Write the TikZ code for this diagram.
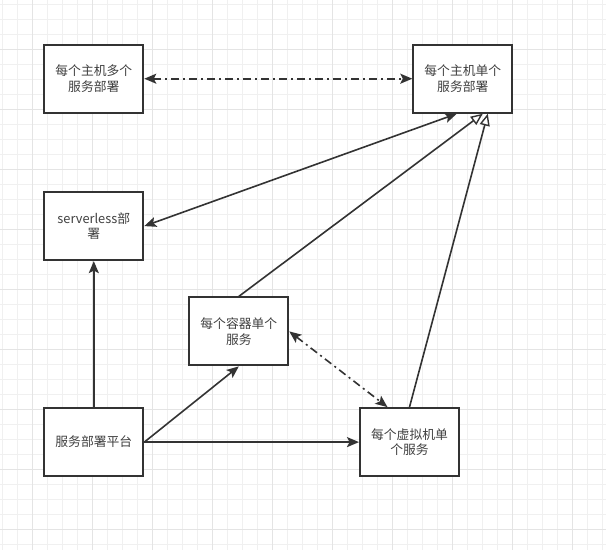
\documentclass[tikz,border=0pt]{standalone}
\usepackage{fontspec}
\setmainfont{Noto Sans CJK SC}
\definecolor{lineGray}{HTML}{333333}
\definecolor{textGray}{HTML}{404040}
\definecolor{gridMinor}{HTML}{F0F0F0}
\definecolor{gridMajor}{HTML}{E4E4E4}
\usetikzlibrary{positioning, arrows.meta}

\begin{document}
\begin{tikzpicture}[
    x=1pt, y=-1pt,
    block/.style={rectangle, draw=lineGray, fill=white, line width=2pt,
                  minimum width=99pt, minimum height=68pt, align=center,
                  text=textGray, font=\fontsize{12.8}{15.6}\selectfont},
    link/.style={draw=lineGray, line width=1.6pt,
                 -{Stealth[length=12pt, width=10pt, inset=2.5pt]}},
    twoway/.style={draw=lineGray, line width=1.6pt,
                 {Stealth[length=12pt, width=10pt, inset=2.5pt]}-{Stealth[length=12pt, width=10pt, inset=2.5pt]}},
    inherit/.style={draw=lineGray, line width=1.6pt,
                 -{Triangle[length=12pt, width=10pt, fill=white, line width=1.4pt]}},
    dashdot/.style={dash pattern=on 8pt off 4pt on 2pt off 4pt},
  ]
    % background grid
    \useasboundingbox (0,0) rectangle (606,550);
    \fill[white] (0,0) rectangle (606,550);
    \foreach \gx in {2,17,...,602}
      \draw[gridMinor, line width=0.8pt] (\gx,0) -- (\gx,550);
    \foreach \gy in {4,19,...,544}
      \draw[gridMinor, line width=0.8pt] (0,\gy) -- (606,\gy);
    \foreach \gx in {32,92,...,572}
      \draw[gridMajor, line width=0.8pt] (\gx,0) -- (\gx,550);
    \foreach \gy in {49,109,...,529}
      \draw[gridMajor, line width=0.8pt] (0,\gy) -- (606,\gy);

    \node[block] (multi) at (93.8,78.7) {每个主机多个\\服务部署};
    \node[block, right=268pt of multi] (single) {每个主机单个\\服务部署};
    \node[block, below=77.4pt of multi] (sless) {serverless部\\署};
    \node[block, below=146pt of sless] (plat) {服务部署平台};
    \node[block, right=214.7pt of plat] (vm) {每个虚拟机单\\个服务};
    \node[block, above right=40.7pt and 44pt of plat] (ctr) {每个容器单个\\服务};

    \draw[twoway, dashdot] (multi) -- (single);
    \draw[twoway] (sless.east) -- ([xshift=-6pt]single.south);
    \draw[inherit] (ctr.north) -- ([xshift=20pt]single.south);
    \draw[inherit] (vm.north) -- ([xshift=25pt]single.south);
    \draw[link] (plat) -- (sless);
    \draw[link] (plat.east) -- (ctr.south);
    \draw[link] (plat) -- (vm);
    \draw[twoway, dashdot] (ctr.east) -- ([xshift=-22pt]vm.north);
  \end{tikzpicture}
\end{document}
